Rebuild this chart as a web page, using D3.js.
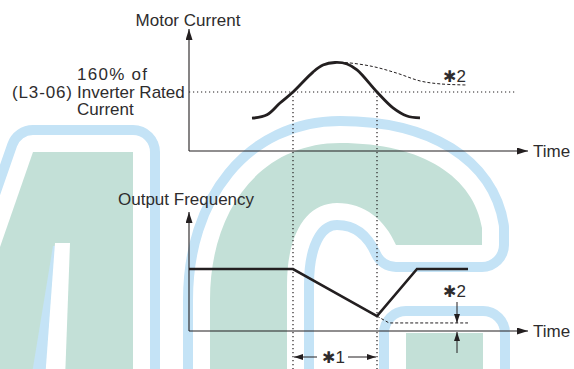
<!DOCTYPE html>
<html>
<head>
<meta charset="utf-8">
<script src="https://cdn.jsdelivr.net/npm/d3@7"></script>
<style>
html,body{margin:0;padding:0;background:#fff;}
svg{display:block;}
text{font-family:"Liberation Sans",Arial,sans-serif;fill:#2e2c2d;}
</style>
</head>
<body>
<svg id="chart" width="574" height="369"></svg>
<script>
// ---- data ----
const timeDomain = [0, 34];                 // arbitrary time units
const stallLimitPct = 160;                  // L3-06: 160% of inverter rated current
const limitLineEnd = 32.6;                  // end of dotted limit line
const currentT   = [6.3, 7.8, 9.1, 10.4, 12.4, 13.4, 14.6, 15.8, 16.8, 18.8, 20.4, 21.8, 23.1];
const currentPct = [89, 98, 130, 160, 214, 233, 240, 236, 220, 160, 117, 95, 90];
const noStallT   = [14.6, 15.8, 18.4, 20.8, 23.1, 25.1, 27.8];
const noStallPct = [240, 239.5, 229, 211, 190, 182, 179];
const freqT      = [0, 10.4, 18.8, 22.8, 27.9];
const freqPct    = [100, 100, 24, 100, 100];
const freqLimT   = [18.8, 20.0, 27.9];
const freqLimPct = [24, 13, 13];
const stallStartT = 10.4, stallEndT = 18.8;
const star2T = 26.8;
const labels = {
  current: "Motor Current",
  freq: "Output Frequency",
  time: "Time",
  limit: ["160% of", "Inverter Rated", "Current"],
  param: "(L3-06)"
};

// ---- scales ----
const svg = d3.select("#chart");
const x = d3.scaleLinear().domain(timeDomain).range([189, 529]);
const yCur = d3.scaleLinear().domain([0, 160]).range([151, 92]);
const yFreq = d3.scaleLinear().domain([0, 100]).range([331, 269]);
const ink = "#231f20";

// ---- watermark (decorative background) ----
const wm = svg.append("g");
const aPath = "M33,152 L133,152 L133,420 L-60,420 Z";
const cPath = "M482,245 L482,228 C474,178 424,143 340,143 C262,143 210,208 210,300 L210,420 L287,420 L287,285 C287,233 307,203 337,203 C365,203 385,220 396,245 Z";
const tPath = "M406,333 L483,333 L483,420 L406,420 Z";
const shapes = [aPath, cPath, tPath];
const blue = "#c4e3f6", green = "#c3e0d7";
shapes.forEach(p => wm.append("path").attr("d", p).attr("fill", blue).attr("stroke", blue).attr("stroke-width", 54).attr("stroke-linejoin", "round"));
shapes.forEach(p => wm.append("path").attr("d", p).attr("fill", "#fff").attr("stroke", "#fff").attr("stroke-width", 34).attr("stroke-linejoin", "round"));
shapes.forEach(p => wm.append("path").attr("d", p).attr("fill", green));
wm.append("path").attr("d", "M53,246 L60,246 L46,380 L31,380 Z").attr("fill", blue);
wm.append("path").attr("d", "M55,243 L70,243 L65,380 L45,380 Z").attr("fill", "#fff");

// ---- markers ----
const defs = svg.append("defs");
function arrowMarker(id, len, wid) {
  defs.append("marker").attr("id", id)
    .attr("markerUnits", "userSpaceOnUse")
    .attr("markerWidth", len).attr("markerHeight", wid)
    .attr("refX", len).attr("refY", wid / 2)
    .attr("orient", "auto")
    .append("path").attr("d", `M0,0 L${len},${wid/2} L0,${wid} Z`).attr("fill", ink);
}
arrowMarker("axisArrow", 11, 7);
arrowMarker("smallArrow", 9, 6);

// ---- axes ----
function axes(yScale, yTop) {
  const y0 = yScale(0);
  svg.append("line").attr("x1", x(0)).attr("y1", y0).attr("x2", x(0)).attr("y2", yTop)
    .attr("stroke", ink).attr("stroke-width", 1.1).attr("marker-end", "url(#axisArrow)");
  svg.append("line").attr("x1", x(0)).attr("y1", y0).attr("x2", x(33.9)).attr("y2", y0)
    .attr("stroke", ink).attr("stroke-width", 1.1).attr("marker-end", "url(#axisArrow)");
  svg.append("text").attr("x", x(34.4)).attr("y", y0 + 6).attr("font-size", 17).text(labels.time);
}
axes(yCur, 29);
axes(yFreq, 212);

// ---- dotted guides ----
const dotted = "1.2,2.8";
svg.append("line").attr("x1", x(0)).attr("x2", x(limitLineEnd))
  .attr("y1", yCur(stallLimitPct)).attr("y2", yCur(stallLimitPct))
  .attr("stroke", ink).attr("stroke-width", 1.2).attr("stroke-dasharray", dotted);
[stallStartT, stallEndT].forEach(t => {
  svg.append("line").attr("x1", x(t)).attr("x2", x(t))
    .attr("y1", yCur(stallLimitPct)).attr("y2", 369)
    .attr("stroke", ink).attr("stroke-width", 1.2).attr("stroke-dasharray", dotted);
});

// ---- motor current ----
const curLine = d3.line().x(d => x(d[0])).y(d => yCur(d[1])).curve(d3.curveCatmullRom.alpha(0.5));
svg.append("path").attr("d", curLine(d3.zip(noStallT, noStallPct)))
  .attr("fill", "none").attr("stroke", ink).attr("stroke-width", 1).attr("stroke-dasharray", "3,2");
svg.append("path").attr("d", curLine(d3.zip(currentT, currentPct)))
  .attr("fill", "none").attr("stroke", ink).attr("stroke-width", 2.8).attr("stroke-linecap", "butt");

// ---- output frequency ----
const fLine = d3.line().x(d => x(d[0])).y(d => yFreq(d[1]));
svg.append("path").attr("d", fLine(d3.zip(freqLimT, freqLimPct)))
  .attr("fill", "none").attr("stroke", ink).attr("stroke-width", 1).attr("stroke-dasharray", "3,2");
svg.append("path").attr("d", fLine(d3.zip(freqT, freqPct)))
  .attr("fill", "none").attr("stroke", ink).attr("stroke-width", 2.6).attr("stroke-linejoin", "miter");

// ---- *2 arrows (bottom) ----
svg.append("line").attr("x1", x(star2T)).attr("x2", x(star2T))
  .attr("y1", 302).attr("y2", yFreq(freqLimPct[2]))
  .attr("stroke", ink).attr("stroke-width", 1).attr("marker-end", "url(#smallArrow)");
svg.append("line").attr("x1", x(star2T)).attr("x2", x(star2T))
  .attr("y1", 353).attr("y2", yFreq(0) + 1)
  .attr("stroke", ink).attr("stroke-width", 1).attr("marker-end", "url(#smallArrow)");

// ---- *1 dimension ----
const dimY = 357;
svg.append("line").attr("x1", 317).attr("x2", x(stallStartT) + 1).attr("y1", dimY).attr("y2", dimY)
  .attr("stroke", ink).attr("stroke-width", 1).attr("marker-end", "url(#smallArrow)");
svg.append("line").attr("x1", 348).attr("x2", x(stallEndT) - 1).attr("y1", dimY).attr("y2", dimY)
  .attr("stroke", ink).attr("stroke-width", 1).attr("marker-end", "url(#smallArrow)");

function starLabel(px, py, num) {
  const t = svg.append("text").attr("x", px).attr("y", py).attr("font-size", 17);
  t.append("tspan").attr("font-family", "DejaVu Sans").attr("font-size", 16).text("✱");
  t.append("tspan").text(num);
}
starLabel(322, 363, "1");
starLabel(443, 82, "2");
starLabel(443, 297, "2");

// ---- titles & labels ----
svg.append("text").attr("x", 188).attr("y", 26).attr("text-anchor", "middle").attr("font-size", 17).text(labels.current);
svg.append("text").attr("x", 118).attr("y", 205).attr("font-size", 17).text(labels.freq);
labels.limit.forEach((s, i) => {
  const t = svg.append("text").attr("x", 77).attr("y", 80 + i * 17.5).attr("font-size", 17).text(s);
  if (i === 0) t.attr("textLength", 70).attr("lengthAdjust", "spacing");
});
svg.append("text").attr("x", 12).attr("y", 97.5).attr("font-size", 17)
  .attr("textLength", 60).attr("lengthAdjust", "spacing").text(labels.param);
</script>
</body>
</html>
